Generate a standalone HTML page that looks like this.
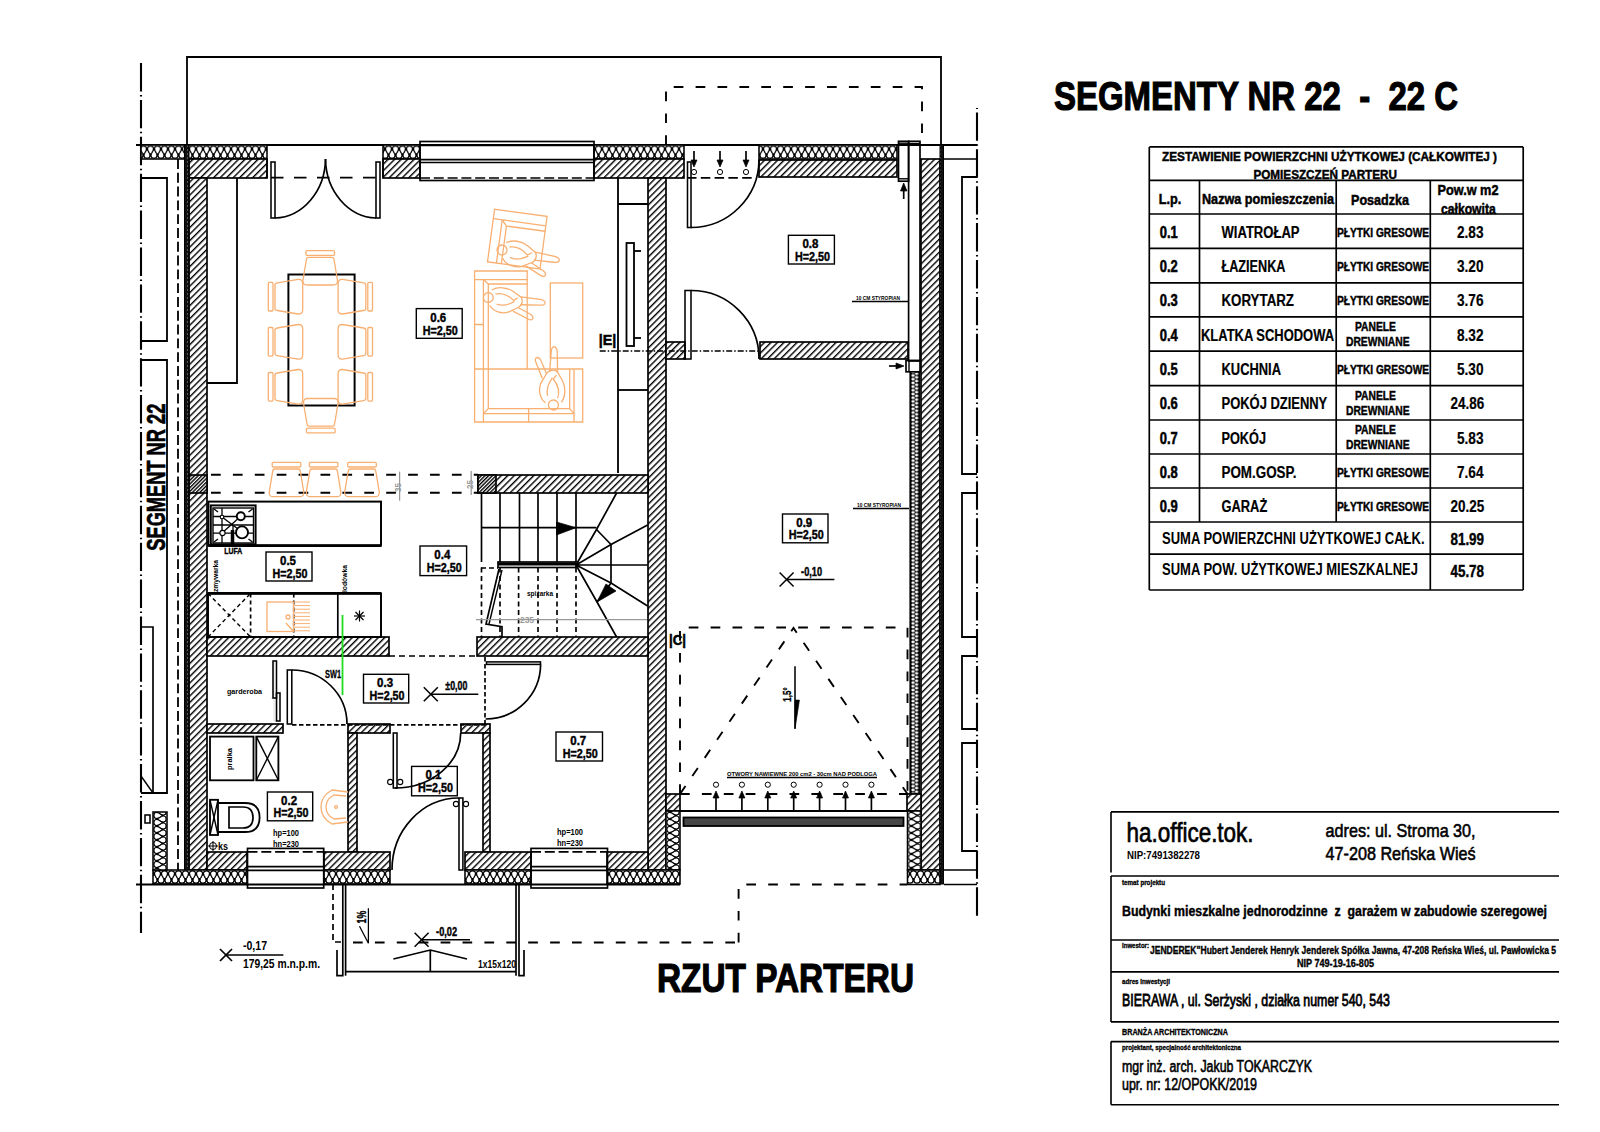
<!DOCTYPE html>
<html><head><meta charset="utf-8"><title>Rzut parteru</title>
<style>html,body{margin:0;padding:0;background:#fff;width:1600px;height:1132px;overflow:hidden}
svg{display:block;font-family:"Liberation Sans",sans-serif}
text{font-family:"Liberation Sans",sans-serif}
</style></head><body>
<svg width="1600" height="1132" viewBox="0 0 1600 1132" font-family="Liberation Sans, sans-serif"><defs>
<pattern id="h" width="4.6" height="4.6" patternUnits="userSpaceOnUse" patternTransform="rotate(45)">
<rect width="4.6" height="4.6" fill="#fff"/><line x1="0.7" y1="0" x2="0.7" y2="4.6" stroke="#000" stroke-width="1.4"/></pattern>
<pattern id="hd" width="2.6" height="2.6" patternUnits="userSpaceOnUse" patternTransform="rotate(45)">
<rect width="2.6" height="2.6" fill="#fff"/><line x1="0.7" y1="0" x2="0.7" y2="2.6" stroke="#000" stroke-width="1.4"/></pattern>
<pattern id="inst" x="0" y="145.2" width="7" height="14" patternUnits="userSpaceOnUse">
<rect width="7" height="14" fill="#fff"/><path d="M3.5,9.5 C-0.6,5 -0.4,0.9 3.5,0.9 C7.4,0.9 7.6,5 3.5,9.5 Z M0,4.5 C-4.1,9 -3.9,13.1 0,13.1 C3.9,13.1 4.1,9 0,4.5 Z M7,4.5 C2.9,9 3.1,13.1 7,13.1 C10.9,13.1 11.1,9 7,4.5 Z" stroke="#000" stroke-width="1.15" fill="none"/></pattern><pattern id="insb" x="0" y="870" width="7" height="14" patternUnits="userSpaceOnUse">
<rect width="7" height="14" fill="#fff"/><path d="M3.5,9.5 C-0.6,5 -0.4,0.9 3.5,0.9 C7.4,0.9 7.6,5 3.5,9.5 Z M0,4.5 C-4.1,9 -3.9,13.1 0,13.1 C3.9,13.1 4.1,9 0,4.5 Z M7,4.5 C2.9,9 3.1,13.1 7,13.1 C10.9,13.1 11.1,9 7,4.5 Z" stroke="#000" stroke-width="1.15" fill="none"/></pattern><pattern id="insvl" x="153" y="0" width="14" height="7" patternUnits="userSpaceOnUse">
<rect width="14" height="7" fill="#fff"/><path d="M9.5,3.5 C5,-0.6 0.9,-0.4 0.9,3.5 C0.9,7.4 5,7.6 9.5,3.5 Z M4.5,0 C9,-4.1 13.1,-3.9 13.1,0 C13.1,3.9 9,4.1 4.5,0 Z M4.5,7 C9,2.9 13.1,3.1 13.1,7 C13.1,10.9 9,11.1 4.5,7 Z" stroke="#000" stroke-width="1.15" fill="none"/></pattern><pattern id="insvg" x="666" y="0" width="14" height="7" patternUnits="userSpaceOnUse">
<rect width="14" height="7" fill="#fff"/><path d="M9.5,3.5 C5,-0.6 0.9,-0.4 0.9,3.5 C0.9,7.4 5,7.6 9.5,3.5 Z M4.5,0 C9,-4.1 13.1,-3.9 13.1,0 C13.1,3.9 9,4.1 4.5,0 Z M4.5,7 C9,2.9 13.1,3.1 13.1,7 C13.1,10.9 9,11.1 4.5,7 Z" stroke="#000" stroke-width="1.15" fill="none"/></pattern><pattern id="insvr" x="907.5" y="0" width="14" height="7" patternUnits="userSpaceOnUse">
<rect width="14" height="7" fill="#fff"/><path d="M9.5,3.5 C5,-0.6 0.9,-0.4 0.9,3.5 C0.9,7.4 5,7.6 9.5,3.5 Z M4.5,0 C9,-4.1 13.1,-3.9 13.1,0 C13.1,3.9 9,4.1 4.5,0 Z M4.5,7 C9,2.9 13.1,3.1 13.1,7 C13.1,10.9 9,11.1 4.5,7 Z" stroke="#000" stroke-width="1.15" fill="none"/></pattern>
<pattern id="dense" width="3" height="4" patternUnits="userSpaceOnUse">
<rect width="3" height="4" fill="#111"/><rect x="1" y="1.5" width="1" height="1" fill="#999"/></pattern>
<pattern id="strip" x="910" y="0" width="9.5" height="3.7" patternUnits="userSpaceOnUse">
<rect width="9.5" height="3.7" fill="#000"/><ellipse cx="3" cy="1.85" rx="1.7" ry="1.35" fill="#fff"/><ellipse cx="6.6" cy="0" rx="1.7" ry="1.35" fill="#fff"/><ellipse cx="6.6" cy="3.7" rx="1.7" ry="1.35" fill="#fff"/></pattern>
<pattern id="bar" width="1.9" height="10" patternUnits="userSpaceOnUse">
<rect width="1.9" height="10" fill="#000"/><rect x="0.6" width="0.7" height="10" fill="#bbb"/></pattern>
</defs><line x1="141" y1="63" x2="141" y2="933" stroke="#000" stroke-width="2.1" stroke-dasharray="28.4,3.5,1.5,3.5" />
<line x1="977" y1="108" x2="977" y2="918" stroke="#000" stroke-width="2.1" stroke-dasharray="28.4,3.5,1.5,3.5" stroke-dashoffset="32.5"/>
<path d="M187,145 V57 H941 V145" stroke="#000" stroke-width="1.82" fill="none" />
<path d="M666,145 V87 H922 V145" stroke="#000" stroke-width="1.89" fill="none" stroke-dasharray="9.7,12.2" />
<line x1="178" y1="159" x2="178" y2="870" stroke="#000" stroke-width="1.82" stroke-dasharray="9.9,3.9" />
<line x1="136" y1="145" x2="977" y2="145" stroke="#000" stroke-width="1.82" />
<line x1="941" y1="159" x2="977" y2="159" stroke="#000" stroke-width="1.68" />
<line x1="941" y1="870" x2="977" y2="870" stroke="#000" stroke-width="1.68" />
<line x1="944" y1="884.5" x2="977" y2="884.5" stroke="#000" stroke-width="1.68" />
<path d="M141,178 H167 V341 H141" stroke="#000" stroke-width="1.82" fill="none" />
<path d="M141,360 H167 V793 H141" stroke="#000" stroke-width="1.82" fill="none" />
<path d="M141,627 H153 V793" stroke="#000" stroke-width="1.68" fill="none" />
<line x1="141" y1="776" x2="153" y2="793" stroke="#000" stroke-width="1.4" />
<rect x="145" y="815" width="5" height="8" stroke="#000" stroke-width="1.54" fill="none" />
<path d="M977,177 H962 V474 H977" stroke="#000" stroke-width="1.82" fill="none" />
<path d="M977,493 H962 V637 H977" stroke="#000" stroke-width="1.82" fill="none" />
<path d="M977,656 H962 V729 H977" stroke="#000" stroke-width="1.82" fill="none" />
<path d="M977,743 H962 V851 H977" stroke="#000" stroke-width="1.82" fill="none" />
<rect x="141" y="145" width="126" height="14" fill="url(#inst)" stroke="#000" stroke-width="1.54"/>
<rect x="383" y="145" width="37" height="14" fill="url(#inst)" stroke="#000" stroke-width="1.54"/>
<rect x="594" y="145" width="90" height="14" fill="url(#inst)" stroke="#000" stroke-width="1.54"/>
<rect x="759" y="145" width="138" height="14" fill="url(#inst)" stroke="#000" stroke-width="1.54"/>
<rect x="189" y="159" width="78" height="19" fill="url(#h)" stroke="#000" stroke-width="1.68"/>
<rect x="383" y="159" width="37" height="19" fill="url(#h)" stroke="#000" stroke-width="1.68"/>
<rect x="594" y="159" width="90" height="19" fill="url(#h)" stroke="#000" stroke-width="1.68"/>
<rect x="759" y="160" width="138" height="17" fill="url(#h)" stroke="#000" stroke-width="1.68"/>
<rect x="189" y="178" width="18" height="692" fill="url(#h)" stroke="#000" stroke-width="1.68"/>
<rect x="189" y="475" width="18" height="18" fill="url(#hd)" stroke="#000" stroke-width="1.68"/>
<rect x="184.5" y="145" width="4.5" height="739" fill="url(#dense)" stroke="#000" stroke-width="1"/>
<rect x="921" y="159" width="19" height="711" fill="url(#h)" stroke="#000" stroke-width="1.68"/>
<rect x="940" y="145" width="3.5" height="739" fill="url(#dense)" stroke="#000" stroke-width="1"/>
<rect x="898.5" y="141.3" width="10.1" height="39.9" stroke="#000" stroke-width="1.68" fill="none" />
<line x1="898.5" y1="143.2" x2="908.6" y2="143.2" stroke="#000" stroke-width="1.4" />
<line x1="898.5" y1="178.8" x2="908.6" y2="178.8" stroke="#000" stroke-width="1.4" />
<rect x="908.6" y="141.3" width="11.4" height="219.7" stroke="#000" stroke-width="1.68" fill="none" />
<line x1="908.6" y1="143.5" x2="920" y2="143.5" stroke="#000" stroke-width="1.4" />
<rect x="906" y="360.4" width="14" height="11.4" stroke="#000" stroke-width="1.68" fill="none" />
<line x1="909" y1="360.4" x2="909" y2="371.8" stroke="#000" stroke-width="1.4" />
<rect x="910" y="372" width="9.7" height="422" fill="url(#strip)" stroke="#000" stroke-width="1.2"/>
<rect x="648" y="178" width="18" height="692" fill="url(#h)" stroke="#000" stroke-width="1.68"/>
<rect x="666" y="794" width="14" height="17" fill="url(#h)" stroke="#000" stroke-width="1.68"/>
<rect x="907" y="794" width="14" height="17" fill="url(#h)" stroke="#000" stroke-width="1.68"/>
<rect x="666" y="811" width="14" height="59" fill="url(#insvg)" stroke="#000" stroke-width="1.54"/>
<rect x="907.5" y="811" width="13.5" height="59" fill="url(#insvr)" stroke="#000" stroke-width="1.54"/>
<rect x="666" y="342" width="19" height="17" fill="url(#h)" stroke="#000" stroke-width="1.68"/>
<rect x="760" y="342" width="148" height="17" fill="url(#h)" stroke="#000" stroke-width="1.68"/>
<line x1="207" y1="474.7" x2="478" y2="474.7" stroke="#000" stroke-width="1.89" stroke-dasharray="9.7,12.2" stroke-dashoffset="-4"/>
<line x1="207" y1="492.8" x2="478" y2="492.8" stroke="#000" stroke-width="1.89" stroke-dasharray="9.7,12.2" stroke-dashoffset="-4"/>
<rect x="478" y="475" width="170" height="18" fill="url(#h)" stroke="#000" stroke-width="1.68"/>
<rect x="478" y="475" width="18" height="18" fill="url(#hd)" stroke="#000" stroke-width="1.68"/>
<rect x="207" y="637" width="182" height="19" fill="url(#h)" stroke="#000" stroke-width="1.68"/>
<rect x="477" y="637" width="171" height="19" fill="url(#h)" stroke="#000" stroke-width="1.68"/>
<line x1="389" y1="656" x2="477" y2="656" stroke="#000" stroke-width="1.68" stroke-dasharray="6,4" />
<rect x="207" y="724" width="76" height="9" fill="url(#h)" stroke="#000" stroke-width="1.68"/>
<rect x="348" y="724" width="42" height="9" fill="url(#h)" stroke="#000" stroke-width="1.68"/>
<rect x="348" y="733" width="9" height="119" fill="url(#h)" stroke="#000" stroke-width="1.68"/>
<rect x="461" y="724" width="29" height="9" fill="url(#h)" stroke="#000" stroke-width="1.68"/>
<rect x="483" y="733" width="7" height="119" fill="url(#h)" stroke="#000" stroke-width="1.68"/>
<rect x="207" y="852" width="40" height="18" fill="url(#h)" stroke="#000" stroke-width="1.68"/>
<rect x="324" y="852" width="66" height="18" fill="url(#h)" stroke="#000" stroke-width="1.68"/>
<rect x="465" y="852" width="66" height="18" fill="url(#h)" stroke="#000" stroke-width="1.68"/>
<rect x="607" y="852" width="41" height="18" fill="url(#h)" stroke="#000" stroke-width="1.68"/>
<rect x="153" y="870" width="94" height="14" fill="url(#insb)" stroke="#000" stroke-width="1.54"/>
<rect x="324" y="870" width="66" height="14" fill="url(#insb)" stroke="#000" stroke-width="1.54"/>
<rect x="465" y="870" width="66" height="14" fill="url(#insb)" stroke="#000" stroke-width="1.54"/>
<rect x="607" y="870" width="73" height="14" fill="url(#insb)" stroke="#000" stroke-width="1.54"/>
<rect x="907.5" y="870" width="32.5" height="14.5" fill="url(#insb)" stroke="#000" stroke-width="1.54"/>
<rect x="153" y="812" width="14" height="58" fill="url(#insvl)" stroke="#000" stroke-width="1.54"/>
<line x1="136" y1="884.5" x2="680" y2="884.5" stroke="#000" stroke-width="1.82" />
<rect x="420" y="141.5" width="174" height="39" stroke="#000" stroke-width="1.68" fill="none" />
<line x1="420" y1="145.3" x2="594" y2="145.3" stroke="#000" stroke-width="1.68" />
<line x1="420" y1="159.7" x2="594" y2="159.7" stroke="#000" stroke-width="1.68" />
<line x1="420" y1="162.5" x2="594" y2="162.5" stroke="#000" stroke-width="1.68" />
<line x1="420" y1="178" x2="594" y2="178" stroke="#000" stroke-width="1.68" stroke-dasharray="10,3.8" />
<rect x="247.5" y="848.4" width="76.19999999999999" height="39.6" stroke="#000" stroke-width="1.68" fill="none" />
<line x1="247.5" y1="851.8" x2="323.7" y2="851.8" stroke="#000" stroke-width="1.68" stroke-dasharray="10,3.8" />
<line x1="247.5" y1="866.6" x2="323.7" y2="866.6" stroke="#000" stroke-width="1.68" />
<line x1="247.5" y1="870.4" x2="323.7" y2="870.4" stroke="#000" stroke-width="1.68" />
<rect x="531" y="848.4" width="76.5" height="39.6" stroke="#000" stroke-width="1.68" fill="none" />
<line x1="531" y1="851.8" x2="607.5" y2="851.8" stroke="#000" stroke-width="1.68" stroke-dasharray="10,3.8" />
<line x1="531" y1="866.6" x2="607.5" y2="866.6" stroke="#000" stroke-width="1.68" />
<line x1="531" y1="870.4" x2="607.5" y2="870.4" stroke="#000" stroke-width="1.68" />
<line x1="680" y1="811" x2="907" y2="811" stroke="#000" stroke-width="1.82" />
<rect x="683.5" y="817.5" width="220" height="8.5" fill="url(#bar)" stroke="#000" stroke-width="1.8"/>
<line x1="267" y1="177.7" x2="383" y2="177.7" stroke="#000" stroke-width="1.68" stroke-dasharray="12.5,10.5" stroke-dashoffset="-4"/>
<path d="M267,159 V178 M383,159 V178" stroke="#000" stroke-width="1.54" fill="none" />
<rect x="271" y="162" width="4" height="56" stroke="#000" stroke-width="1.54" fill="none" />
<rect x="376" y="162" width="4" height="56" stroke="#000" stroke-width="1.54" fill="none" />
<path d="M275,218 A52,60 0 0 0 325.5,159" stroke="#000" stroke-width="1.68" fill="none" />
<path d="M376,218 A52,60 0 0 1 325.5,159" stroke="#000" stroke-width="1.68" fill="none" />
<rect x="687.5" y="162" width="3.5" height="65.5" stroke="#000" stroke-width="1.54" fill="none" />
<path d="M691,227.5 A68,68 0 0 0 759,160" stroke="#000" stroke-width="1.68" fill="none" />
<line x1="684" y1="177.8" x2="757" y2="177.8" stroke="#000" stroke-width="1.68" stroke-dasharray="9.5,4.3" stroke-dashoffset="-3"/>
<line x1="694" y1="151" x2="694" y2="165" stroke="#000" stroke-width="1.68" />
<path d="M691,160 L694,167 L697,160 Z" stroke="#000" stroke-width="0.7" fill="#000" />
<circle cx="694" cy="172" r="2.6" stroke="#000" stroke-width="1" fill="none"/>
<line x1="720" y1="151" x2="720" y2="165" stroke="#000" stroke-width="1.68" />
<path d="M717,160 L720,167 L723,160 Z" stroke="#000" stroke-width="0.7" fill="#000" />
<circle cx="720" cy="172" r="2.6" stroke="#000" stroke-width="1" fill="none"/>
<line x1="746" y1="151" x2="746" y2="165" stroke="#000" stroke-width="1.68" />
<path d="M743,160 L746,167 L749,160 Z" stroke="#000" stroke-width="0.7" fill="#000" />
<circle cx="746" cy="172" r="2.6" stroke="#000" stroke-width="1" fill="none"/>
<line x1="903.7" y1="199" x2="903.7" y2="186" stroke="#000" stroke-width="1.68" />
<path d="M900.5,191 L903.7,183 L907,191 Z" stroke="#000" stroke-width="0.7" fill="#000" />
<rect x="685" y="290.5" width="6" height="68.5" stroke="#000" stroke-width="1.54" fill="none" />
<path d="M691,290.5 A68,68 0 0 1 759,359" stroke="#000" stroke-width="1.68" fill="none" />
<line x1="599.7" y1="351" x2="760" y2="351" stroke="#000" stroke-width="1.68" stroke-dasharray="6,2,1.5,2" />
<line x1="889" y1="366" x2="900" y2="366" stroke="#000" stroke-width="1.68" />
<path d="M896,363 L904,366 L896,369 Z" stroke="#000" stroke-width="0.7" fill="#000" />
<rect x="287.3" y="670" width="4.5" height="54" stroke="#000" stroke-width="1.54" fill="none" />
<path d="M291.8,670 A55,54 0 0 1 347,724" stroke="#000" stroke-width="1.68" fill="none" />
<path d="M274,661 V695 H277 V721 H274 V698 H271" stroke="#000" stroke-width="0.14" fill="none" />
<rect x="273" y="661" width="3.5" height="37" stroke="#000" stroke-width="1.54" fill="none" />
<rect x="276.5" y="693" width="3.5" height="28" stroke="#000" stroke-width="1.54" fill="none" />
<line x1="292" y1="724.8" x2="485" y2="724.8" stroke="#000" stroke-width="1.68" stroke-dasharray="4.5,2.5" />
<line x1="485" y1="657" x2="485" y2="724.8" stroke="#000" stroke-width="1.68" stroke-dasharray="4.5,2.5" />
<rect x="486.5" y="661.9" width="54" height="2.5" stroke="#000" stroke-width="1.54" fill="none" />
<path d="M540.6,664.4 A55,55 0 0 1 485.6,719" stroke="#000" stroke-width="1.68" fill="none" />
<rect x="393.3" y="733" width="3.7" height="55" stroke="#000" stroke-width="1.54" fill="none" />
<path d="M395,788 A66,55 0 0 0 460.7,733" stroke="#000" stroke-width="1.68" fill="none" />
<rect x="459" y="798" width="3.9" height="72" stroke="#000" stroke-width="1.54" fill="none" />
<path d="M459,798 A67,72 0 0 0 392,870" stroke="#000" stroke-width="1.68" fill="none" />
<circle cx="390.2" cy="782" r="2.6" stroke="#000" stroke-width="1.1" fill="#fff"/>
<circle cx="400.2" cy="782" r="2.6" stroke="#000" stroke-width="1.1" fill="#fff"/>
<circle cx="456" cy="804" r="2.6" stroke="#000" stroke-width="1.1" fill="#fff"/>
<circle cx="466" cy="804" r="2.6" stroke="#000" stroke-width="1.1" fill="#fff"/>
<path d="M207,383 H237 V178" stroke="#000" stroke-width="1.82" fill="none" />
<path d="M648,204 H618 V473 M618,178 V204" stroke="#000" stroke-width="1.82" fill="none" />
<line x1="618" y1="390" x2="648" y2="390" stroke="#000" stroke-width="1.82" />
<rect x="626.5" y="243" width="7.5" height="103" stroke="#000" stroke-width="1.82" fill="none" />
<line x1="634" y1="251" x2="641" y2="251" stroke="#000" stroke-width="1.82" />
<line x1="634" y1="338" x2="641" y2="338" stroke="#000" stroke-width="1.82" />
<text x="598.8" y="344.8" font-size="14" font-weight="bold" fill="#000" text-anchor="start" textLength="17.5" lengthAdjust="spacingAndGlyphs" stroke="#000" stroke-width="0.5" >|E|</text>
<rect x="288.4" y="274.5" width="66.2" height="131" stroke="#000" stroke-width="1.96" fill="none" />
<g transform="translate(320.2,269.5) rotate(0)" stroke="#f8b072" stroke-width="1.3" fill="none"><rect x="-14.3" y="-18.9" width="28.6" height="4.7" rx="1"/><path d="M-11.5,-12.2 L11.5,-12.2 Q13.5,-12.2 13.8,-10 L17.3,11 Q17.6,15.5 13,15.5 L-13,15.5 Q-17.6,15.5 -17.3,11 L-13.8,-10 Q-13.5,-12.2 -11.5,-12.2 Z"/></g>
<g transform="translate(320.8,414) rotate(180)" stroke="#f8b072" stroke-width="1.3" fill="none"><rect x="-14.3" y="-18.9" width="28.6" height="4.7" rx="1"/><path d="M-11.5,-12.2 L11.5,-12.2 Q13.5,-12.2 13.8,-10 L17.3,11 Q17.6,15.5 13,15.5 L-13,15.5 Q-17.6,15.5 -17.3,11 L-13.8,-10 Q-13.5,-12.2 -11.5,-12.2 Z"/></g>
<g transform="translate(287.2,296.7) rotate(-90)" stroke="#f8b072" stroke-width="1.3" fill="none"><rect x="-14.3" y="-18.9" width="28.6" height="4.7" rx="1"/><path d="M-11.5,-12.2 L11.5,-12.2 Q13.5,-12.2 13.8,-10 L17.3,11 Q17.6,15.5 13,15.5 L-13,15.5 Q-17.6,15.5 -17.3,11 L-13.8,-10 Q-13.5,-12.2 -11.5,-12.2 Z"/></g>
<g transform="translate(353.6,296.7) rotate(90)" stroke="#f8b072" stroke-width="1.3" fill="none"><rect x="-14.3" y="-18.9" width="28.6" height="4.7" rx="1"/><path d="M-11.5,-12.2 L11.5,-12.2 Q13.5,-12.2 13.8,-10 L17.3,11 Q17.6,15.5 13,15.5 L-13,15.5 Q-17.6,15.5 -17.3,11 L-13.8,-10 Q-13.5,-12.2 -11.5,-12.2 Z"/></g>
<g transform="translate(287.2,341.8) rotate(-90)" stroke="#f8b072" stroke-width="1.3" fill="none"><rect x="-14.3" y="-18.9" width="28.6" height="4.7" rx="1"/><path d="M-11.5,-12.2 L11.5,-12.2 Q13.5,-12.2 13.8,-10 L17.3,11 Q17.6,15.5 13,15.5 L-13,15.5 Q-17.6,15.5 -17.3,11 L-13.8,-10 Q-13.5,-12.2 -11.5,-12.2 Z"/></g>
<g transform="translate(353.6,341.8) rotate(90)" stroke="#f8b072" stroke-width="1.3" fill="none"><rect x="-14.3" y="-18.9" width="28.6" height="4.7" rx="1"/><path d="M-11.5,-12.2 L11.5,-12.2 Q13.5,-12.2 13.8,-10 L17.3,11 Q17.6,15.5 13,15.5 L-13,15.5 Q-17.6,15.5 -17.3,11 L-13.8,-10 Q-13.5,-12.2 -11.5,-12.2 Z"/></g>
<g transform="translate(287.2,386.8) rotate(-90)" stroke="#f8b072" stroke-width="1.3" fill="none"><rect x="-14.3" y="-18.9" width="28.6" height="4.7" rx="1"/><path d="M-11.5,-12.2 L11.5,-12.2 Q13.5,-12.2 13.8,-10 L17.3,11 Q17.6,15.5 13,15.5 L-13,15.5 Q-17.6,15.5 -17.3,11 L-13.8,-10 Q-13.5,-12.2 -11.5,-12.2 Z"/></g>
<g transform="translate(353.6,386.8) rotate(90)" stroke="#f8b072" stroke-width="1.3" fill="none"><rect x="-14.3" y="-18.9" width="28.6" height="4.7" rx="1"/><path d="M-11.5,-12.2 L11.5,-12.2 Q13.5,-12.2 13.8,-10 L17.3,11 Q17.6,15.5 13,15.5 L-13,15.5 Q-17.6,15.5 -17.3,11 L-13.8,-10 Q-13.5,-12.2 -11.5,-12.2 Z"/></g>
<g transform="translate(286.5,481.2) rotate(0)" stroke="#f8b072" stroke-width="1.3" fill="none"><rect x="-14.3" y="-18.9" width="28.6" height="4.7" rx="1"/><path d="M-11.5,-12.2 L11.5,-12.2 Q13.5,-12.2 13.8,-10 L17.3,11 Q17.6,15.5 13,15.5 L-13,15.5 Q-17.6,15.5 -17.3,11 L-13.8,-10 Q-13.5,-12.2 -11.5,-12.2 Z"/></g>
<g transform="translate(323.6,481.2) rotate(0)" stroke="#f8b072" stroke-width="1.3" fill="none"><rect x="-14.3" y="-18.9" width="28.6" height="4.7" rx="1"/><path d="M-11.5,-12.2 L11.5,-12.2 Q13.5,-12.2 13.8,-10 L17.3,11 Q17.6,15.5 13,15.5 L-13,15.5 Q-17.6,15.5 -17.3,11 L-13.8,-10 Q-13.5,-12.2 -11.5,-12.2 Z"/></g>
<g transform="translate(362,481.2) rotate(0)" stroke="#f8b072" stroke-width="1.3" fill="none"><rect x="-14.3" y="-18.9" width="28.6" height="4.7" rx="1"/><path d="M-11.5,-12.2 L11.5,-12.2 Q13.5,-12.2 13.8,-10 L17.3,11 Q17.6,15.5 13,15.5 L-13,15.5 Q-17.6,15.5 -17.3,11 L-13.8,-10 Q-13.5,-12.2 -11.5,-12.2 Z"/></g>
<path d="M474.6,271 H527.2 V369 H582.7 V422 H474.6 Z" stroke="#f8b072" stroke-width="1.3" fill="none"/>
<path d="M474.6,279.6 H527.2 M483.4,279.6 V422 M488.3,284 H527.2 M488.3,284 V408.6 H569.7 V369 M483.4,413.6 H574 M574,369 V422 M474.6,324.5 H483.4 M474.6,369 H527.2 M528.6,408.6 V422 M483.4,279.6 L488.3,284 M483.4,413.6 L488.3,408.6 M574,413.6 L569.7,408.6" stroke="#f8b072" stroke-width="1.3" fill="none"/>
<rect x="550.3" y="283" width="32.4" height="75" stroke="#f8b072" stroke-width="1.3" fill="none"/>
<g transform="translate(494.6,209.3) rotate(7.7)" stroke="#f8b072" stroke-width="1.3" fill="none"><rect x="0" y="0" width="53" height="53"/><path d="M0,9.5 H53 M9,9.5 V53 M14,15 H53 M14,15 V53 M9,9.5 L14,15"/></g>
<g transform="translate(502,250) rotate(9) scale(1.0,1.0)" stroke="#f8b072" stroke-width="1.3" fill="none"><circle cx="0" cy="0" r="5"/><path d="M3,-8 C9,-12 18,-12 25,-8 L33,-3 C36,0 35,6 31,8 L22,13 C15,16 6,14 2,8"/><path d="M7,-4 C13,-6 20,-4 26,1 L30,-2 M9,6 C15,8 21,6 27,2"/><path d="M33,-3 L53,-2 C60,-1 60,4 53,4 L33,5"/><path d="M31,8 L44,14 C49,17 47,21 42,19 L26,12"/></g>
<g transform="translate(488.3,297.6) rotate(4) scale(0.98,0.98)" stroke="#f8b072" stroke-width="1.3" fill="none"><circle cx="0" cy="0" r="5"/><path d="M3,-8 C9,-12 18,-12 25,-8 L33,-3 C36,0 35,6 31,8 L22,13 C15,16 6,14 2,8"/><path d="M7,-4 C13,-6 20,-4 26,1 L30,-2 M9,6 C15,8 21,6 27,2"/><path d="M33,-3 L53,-2 C60,-1 60,4 53,4 L33,5"/><path d="M31,8 L44,14 C49,17 47,21 42,19 L26,12"/></g>
<g transform="translate(553.4,405) rotate(-88) scale(1.0,-1.0)" stroke="#f8b072" stroke-width="1.3" fill="none"><circle cx="0" cy="0" r="5"/><path d="M3,-8 C9,-12 18,-12 25,-8 L33,-3 C36,0 35,6 31,8 L22,13 C15,16 6,14 2,8"/><path d="M7,-4 C13,-6 20,-4 26,1 L30,-2 M9,6 C15,8 21,6 27,2"/><path d="M33,-3 L53,-2 C60,-1 60,4 53,4 L33,5"/><path d="M31,8 L44,14 C49,17 47,21 42,19 L26,12"/></g>
<line x1="399.6" y1="471.6" x2="399.6" y2="500.7" stroke="#999" stroke-width="1.26" />
<text x="0" y="0" font-size="9" font-weight="bold" fill="#999" text-anchor="start" textLength="9" lengthAdjust="spacingAndGlyphs" transform="translate(401,492) rotate(-90)">35</text>
<line x1="471.2" y1="471" x2="471.2" y2="495" stroke="#999" stroke-width="1.26" />
<text x="0" y="0" font-size="9" font-weight="bold" fill="#999" text-anchor="start" textLength="9" lengthAdjust="spacingAndGlyphs" transform="translate(473,489) rotate(-90)">25</text>
<rect x="208.4" y="501.6" width="172.6" height="44" stroke="#000" stroke-width="1.96" fill="none" />
<line x1="208.4" y1="545.6" x2="381" y2="545.6" stroke="#000" stroke-width="2.8" />
<rect x="210.8" y="505.4" width="44.8" height="39" stroke="#000" stroke-width="1.96" fill="none" />
<rect x="213" y="508" width="40.5" height="35" stroke="#000" stroke-width="1.4" fill="none" />
<g stroke="#000" stroke-width="1.3" fill="none"><line x1="213" y1="516.5" x2="253.5" y2="516.5"/><line x1="213" y1="525" x2="253.5" y2="525"/><line x1="213" y1="533.2" x2="253.5" y2="533.2"/><line x1="222" y1="508" x2="222" y2="543"/><line x1="233" y1="525" x2="233" y2="543"/><line x1="222" y1="517" x2="242" y2="532"/><line x1="222" y1="533" x2="241" y2="516"/><line x1="214" y1="509" x2="218" y2="512"/><line x1="252.5" y1="509" x2="248.5" y2="512"/><line x1="214" y1="542" x2="218" y2="539"/><line x1="252.5" y1="542" x2="248.5" y2="539"/></g>
<g stroke="#000" stroke-width="1.9" fill="#fff"><circle cx="240.8" cy="516.3" r="4"/><circle cx="242" cy="532.4" r="6"/></g>
<g stroke="#000" stroke-width="1.1" fill="#fff"><circle cx="222" cy="517" r="1.8"/><circle cx="222.5" cy="533" r="2.6"/></g>
<line x1="232.5" y1="530" x2="232.5" y2="545" stroke="#000" stroke-width="3.5" />
<text x="224.3" y="553.6" font-size="9" font-weight="bold" fill="#000" text-anchor="start" textLength="18" lengthAdjust="spacingAndGlyphs" stroke="#000" stroke-width="0.4" >LUFA</text>
<rect x="208" y="593.4" width="173" height="43.6" stroke="#000" stroke-width="1.96" fill="none" />
<line x1="208" y1="593.4" x2="381" y2="593.4" stroke="#000" stroke-width="2.8" />
<line x1="250.6" y1="593.4" x2="250.6" y2="637" stroke="#000" stroke-width="1.68" stroke-dasharray="4,3" />
<line x1="293.75" y1="593.4" x2="293.75" y2="637" stroke="#000" stroke-width="1.68" stroke-dasharray="4,3" />
<line x1="337.8" y1="593.4" x2="337.8" y2="637" stroke="#000" stroke-width="1.68" />
<line x1="208" y1="593.4" x2="250.6" y2="637" stroke="#000" stroke-width="1.4" stroke-dasharray="4,3" />
<line x1="208" y1="637" x2="250.6" y2="593.4" stroke="#000" stroke-width="1.4" stroke-dasharray="4,3" />
<rect x="267" y="602" width="26.5" height="29.5" stroke="#f8b072" stroke-width="1.3" fill="none"/>
<line x1="294" y1="602.0" x2="310" y2="602.0" stroke="#f8b072" stroke-width="1"/>
<line x1="294" y1="605.6" x2="310" y2="605.6" stroke="#f8b072" stroke-width="1"/>
<line x1="294" y1="609.2" x2="310" y2="609.2" stroke="#f8b072" stroke-width="1"/>
<line x1="294" y1="612.8" x2="310" y2="612.8" stroke="#f8b072" stroke-width="1"/>
<line x1="294" y1="616.4" x2="310" y2="616.4" stroke="#f8b072" stroke-width="1"/>
<line x1="294" y1="620.0" x2="310" y2="620.0" stroke="#f8b072" stroke-width="1"/>
<line x1="294" y1="623.6" x2="310" y2="623.6" stroke="#f8b072" stroke-width="1"/>
<line x1="294" y1="627.2" x2="310" y2="627.2" stroke="#f8b072" stroke-width="1"/>
<line x1="294" y1="630.8" x2="310" y2="630.8" stroke="#f8b072" stroke-width="1"/>
<circle cx="288" cy="617" r="2" stroke="#f8b072" stroke-width="1.3" fill="none"/><line x1="286" y1="623" x2="293" y2="631" stroke="#f8b072" stroke-width="1.3" x="none"/>
<g stroke="#000" stroke-width="1.2"><line x1="354" y1="616" x2="365" y2="616"/><line x1="359.5" y1="610.5" x2="359.5" y2="621.5"/><line x1="355.5" y1="612" x2="363.5" y2="620"/><line x1="363.5" y1="612" x2="355.5" y2="620"/></g>
<line x1="342.5" y1="615" x2="342.5" y2="695" stroke="#22dd22" stroke-width="1.82" />
<text x="0" y="0" font-size="8" font-weight="bold" fill="#000" text-anchor="start" textLength="32" lengthAdjust="spacingAndGlyphs" transform="translate(218,592) rotate(-90)">zmywarka</text>
<text x="0" y="0" font-size="8" font-weight="bold" fill="#000" text-anchor="start" textLength="27" lengthAdjust="spacingAndGlyphs" transform="translate(347,592) rotate(-90)">lodówka</text>
<line x1="481.5" y1="492.7" x2="481.5" y2="562" stroke="#000" stroke-width="1.68" />
<line x1="500" y1="492.7" x2="500" y2="562" stroke="#000" stroke-width="1.68" />
<line x1="519.5" y1="492.7" x2="519.5" y2="562" stroke="#000" stroke-width="1.68" />
<line x1="538" y1="492.7" x2="538" y2="562" stroke="#000" stroke-width="1.68" />
<line x1="557" y1="492.7" x2="557" y2="562" stroke="#000" stroke-width="1.68" />
<line x1="576" y1="492.7" x2="576" y2="562" stroke="#000" stroke-width="1.68" />
<line x1="481.5" y1="527.7" x2="596.5" y2="527.7" stroke="#000" stroke-width="1.68" />
<rect x="498" y="562" width="78" height="5.5" stroke="#000" stroke-width="1.68" fill="none" />
<line x1="498" y1="564" x2="576" y2="564" stroke="#000" stroke-width="3.08" />
<path d="M576,565 L596.5,529.5 L616.6,493 M576,565 L611,544.5 L647.6,525 M576,565 L647.6,565 M576,565 L611,583 L647.6,606 M576,565 L597,602 L616.6,637" stroke="#000" stroke-width="1.68" fill="none" />
<path d="M596.5,529.5 L611,544.5 L611,583 L597,602" stroke="#000" stroke-width="1.68" fill="none" />
<path d="M556.5,522 L556.5,535 L576,527.7 Z" stroke="#000" stroke-width="0.7" fill="#000" />
<path d="M597,602 L606,584 L616,591 Z" stroke="#000" stroke-width="0.7" fill="#000" />
<line x1="481.5" y1="567.5" x2="481.5" y2="637" stroke="#000" stroke-width="1.68" stroke-dasharray="5,3.5" />
<line x1="500" y1="567.5" x2="500" y2="637" stroke="#000" stroke-width="1.68" stroke-dasharray="5,3.5" />
<line x1="518.6" y1="567.5" x2="518.6" y2="637" stroke="#000" stroke-width="1.68" stroke-dasharray="5,3.5" />
<line x1="538" y1="567.5" x2="538" y2="637" stroke="#000" stroke-width="1.68" stroke-dasharray="5,3.5" />
<line x1="557" y1="567.5" x2="557" y2="637" stroke="#000" stroke-width="1.68" stroke-dasharray="5,3.5" />
<line x1="576" y1="567.5" x2="576" y2="637" stroke="#000" stroke-width="1.68" stroke-dasharray="5,3.5" />
<line x1="481" y1="568" x2="498" y2="568" stroke="#000" stroke-width="1.68" stroke-dasharray="5,3" />
<path d="M499,569 L486,624 L502,626.6 V637" stroke="#000" stroke-width="1.68" fill="none" />
<path d="M502,570 L489,624" stroke="#000" stroke-width="1.4" fill="none" />
<text x="527" y="596" font-size="8" font-weight="bold" fill="#000" text-anchor="start" textLength="26" lengthAdjust="spacingAndGlyphs" >spiżarka</text>
<line x1="476" y1="619.6" x2="647" y2="619.6" stroke="#999" stroke-width="1.4" />
<text x="520" y="623" font-size="9" font-weight="bold" fill="#999" text-anchor="start" textLength="14" lengthAdjust="spacingAndGlyphs" >235</text>
<text x="227" y="694" font-size="8" font-weight="bold" fill="#000" text-anchor="start" textLength="35" lengthAdjust="spacingAndGlyphs" >garderoba</text>
<text x="325" y="678.4" font-size="10" font-weight="bold" fill="#000" text-anchor="start" textLength="16" lengthAdjust="spacingAndGlyphs" stroke="#000" stroke-width="0.3" >SW1</text>
<rect x="210" y="736.6" width="43.5" height="43.7" stroke="#000" stroke-width="1.82" fill="none" />
<rect x="256.3" y="736.6" width="22.1" height="43.7" stroke="#000" stroke-width="1.82" fill="none" />
<line x1="256.3" y1="736.6" x2="278.4" y2="780.3" stroke="#000" stroke-width="1.4" />
<line x1="278.4" y1="736.6" x2="256.3" y2="780.3" stroke="#000" stroke-width="1.4" />
<text x="0" y="0" font-size="8" font-weight="bold" fill="#000" text-anchor="start" textLength="22" lengthAdjust="spacingAndGlyphs" transform="translate(232,770) rotate(-90)">pralka</text>
<rect x="210" y="799.8" width="8" height="35.2" stroke="#000" stroke-width="1.82" fill="none" />
<line x1="210" y1="799.8" x2="218" y2="835" stroke="#000" stroke-width="1.4" />
<line x1="218" y1="799.8" x2="210" y2="835" stroke="#000" stroke-width="1.4" />
<path d="M218,803 H245 Q259.6,803 259.6,817.5 Q259.6,832 245,832 H218" stroke="#000" stroke-width="1.82" fill="none" />
<path d="M229,807 H243 Q253,807 253,817.5 Q253,828 243,828 H229 Z" stroke="#000" stroke-width="1.68" fill="none" />
<path d="M348,792 L332,790 Q321,796 321,807 Q321,818 332,824 L348,822" stroke="#f8b072" stroke-width="1.3" fill="none"/><path d="M346,796 L334,795 Q326,799 326,807 Q326,815 334,819 L346,818" stroke="#f8b072" stroke-width="1.3" fill="none"/><circle cx="336" cy="807" r="1.4" stroke="#f8b072" stroke-width="1.3" fill="none"/>
<g stroke="#000" stroke-width="1" fill="none"><circle cx="213" cy="846" r="3.5"/><line x1="208" y1="846" x2="218" y2="846"/><line x1="213" y1="841" x2="213" y2="851"/></g>
<text x="218" y="850" font-size="11" font-weight="bold" fill="#000" text-anchor="start" textLength="10" lengthAdjust="spacingAndGlyphs" >ks</text>
<text x="273" y="836" font-size="9" font-weight="bold" fill="#000" text-anchor="start" textLength="26" lengthAdjust="spacingAndGlyphs" >hp=100</text>
<text x="273" y="847" font-size="9" font-weight="bold" fill="#000" text-anchor="start" textLength="26" lengthAdjust="spacingAndGlyphs" >hn=230</text>
<text x="557" y="835" font-size="9" font-weight="bold" fill="#000" text-anchor="start" textLength="26" lengthAdjust="spacingAndGlyphs" >hp=100</text>
<text x="557" y="846" font-size="9" font-weight="bold" fill="#000" text-anchor="start" textLength="26" lengthAdjust="spacingAndGlyphs" >hn=230</text>
<rect x="416.3" y="308.6" width="45.89999999999998" height="29.69999999999999" stroke="#000" stroke-width="1.4" fill="none" />
<text x="438.25" y="321.6" font-size="13.5" font-weight="bold" fill="#000" text-anchor="middle" textLength="16" lengthAdjust="spacingAndGlyphs" stroke="#000" stroke-width="0.45" >0.6</text>
<text x="440.25" y="334.8" font-size="13.5" font-weight="bold" fill="#000" text-anchor="middle" textLength="35" lengthAdjust="spacingAndGlyphs" stroke="#000" stroke-width="0.45" >H=2,50</text>
<rect x="788.4" y="235.3" width="46.0" height="28.69999999999999" stroke="#000" stroke-width="1.4" fill="none" />
<text x="810.4" y="248.3" font-size="13.5" font-weight="bold" fill="#000" text-anchor="middle" textLength="16" lengthAdjust="spacingAndGlyphs" stroke="#000" stroke-width="0.45" >0.8</text>
<text x="812.4" y="260.5" font-size="13.5" font-weight="bold" fill="#000" text-anchor="middle" textLength="35" lengthAdjust="spacingAndGlyphs" stroke="#000" stroke-width="0.45" >H=2,50</text>
<rect x="782.5" y="514" width="45.5" height="28.799999999999955" stroke="#000" stroke-width="1.4" fill="none" />
<text x="804.25" y="527" font-size="13.5" font-weight="bold" fill="#000" text-anchor="middle" textLength="16" lengthAdjust="spacingAndGlyphs" stroke="#000" stroke-width="0.45" >0.9</text>
<text x="806.25" y="539.3" font-size="13.5" font-weight="bold" fill="#000" text-anchor="middle" textLength="35" lengthAdjust="spacingAndGlyphs" stroke="#000" stroke-width="0.45" >H=2,50</text>
<rect x="266" y="552" width="46" height="29" stroke="#000" stroke-width="1.4" fill="none" />
<text x="288.0" y="565" font-size="13.5" font-weight="bold" fill="#000" text-anchor="middle" textLength="16" lengthAdjust="spacingAndGlyphs" stroke="#000" stroke-width="0.45" >0.5</text>
<text x="290.0" y="577.5" font-size="13.5" font-weight="bold" fill="#000" text-anchor="middle" textLength="35" lengthAdjust="spacingAndGlyphs" stroke="#000" stroke-width="0.45" >H=2,50</text>
<rect x="420" y="546" width="46.60000000000002" height="29.600000000000023" stroke="#000" stroke-width="1.4" fill="none" />
<text x="442.3" y="559" font-size="13.5" font-weight="bold" fill="#000" text-anchor="middle" textLength="16" lengthAdjust="spacingAndGlyphs" stroke="#000" stroke-width="0.45" >0.4</text>
<text x="444.3" y="572.1" font-size="13.5" font-weight="bold" fill="#000" text-anchor="middle" textLength="35" lengthAdjust="spacingAndGlyphs" stroke="#000" stroke-width="0.45" >H=2,50</text>
<rect x="363.5" y="674.3" width="45.19999999999999" height="28.700000000000045" stroke="#000" stroke-width="1.4" fill="none" />
<text x="385.1" y="687.3" font-size="13.5" font-weight="bold" fill="#000" text-anchor="middle" textLength="16" lengthAdjust="spacingAndGlyphs" stroke="#000" stroke-width="0.45" >0.3</text>
<text x="387.1" y="699.5" font-size="13.5" font-weight="bold" fill="#000" text-anchor="middle" textLength="35" lengthAdjust="spacingAndGlyphs" stroke="#000" stroke-width="0.45" >H=2,50</text>
<rect x="267.4" y="792" width="45.30000000000001" height="28.799999999999955" stroke="#000" stroke-width="1.4" fill="none" />
<text x="289.04999999999995" y="805" font-size="13.5" font-weight="bold" fill="#000" text-anchor="middle" textLength="16" lengthAdjust="spacingAndGlyphs" stroke="#000" stroke-width="0.45" >0.2</text>
<text x="291.04999999999995" y="817.3" font-size="13.5" font-weight="bold" fill="#000" text-anchor="middle" textLength="35" lengthAdjust="spacingAndGlyphs" stroke="#000" stroke-width="0.45" >H=2,50</text>
<rect x="411.6" y="766.4" width="45.69999999999999" height="29.399999999999977" stroke="#000" stroke-width="1.4" fill="none" />
<text x="433.45000000000005" y="779.4" font-size="13.5" font-weight="bold" fill="#000" text-anchor="middle" textLength="16" lengthAdjust="spacingAndGlyphs" stroke="#000" stroke-width="0.45" >0.1</text>
<text x="435.45000000000005" y="792.3" font-size="13.5" font-weight="bold" fill="#000" text-anchor="middle" textLength="35" lengthAdjust="spacingAndGlyphs" stroke="#000" stroke-width="0.45" >H=2,50</text>
<rect x="556" y="732" width="46.5" height="29" stroke="#000" stroke-width="1.4" fill="none" />
<text x="578.25" y="745" font-size="13.5" font-weight="bold" fill="#000" text-anchor="middle" textLength="16" lengthAdjust="spacingAndGlyphs" stroke="#000" stroke-width="0.45" >0.7</text>
<text x="580.25" y="757.5" font-size="13.5" font-weight="bold" fill="#000" text-anchor="middle" textLength="35" lengthAdjust="spacingAndGlyphs" stroke="#000" stroke-width="0.45" >H=2,50</text>
<line x1="423.8" y1="687.2" x2="437.8" y2="701.2" stroke="#000" stroke-width="1.54" />
<line x1="423.8" y1="701.2" x2="437.8" y2="687.2" stroke="#000" stroke-width="1.54" />
<line x1="430.8" y1="694.2" x2="478.3" y2="694.2" stroke="#000" stroke-width="1.54" />
<text x="445.3" y="690.2" font-size="12" font-weight="bold" fill="#000" text-anchor="start" textLength="22" lengthAdjust="spacingAndGlyphs" stroke="#000" stroke-width="0.4" >±0,00</text>
<line x1="779.6" y1="572.5" x2="793.6" y2="586.5" stroke="#000" stroke-width="1.54" />
<line x1="779.6" y1="586.5" x2="793.6" y2="572.5" stroke="#000" stroke-width="1.54" />
<line x1="786.6" y1="579.5" x2="834.4" y2="579.5" stroke="#000" stroke-width="1.54" />
<text x="801.1" y="575.5" font-size="12" font-weight="bold" fill="#000" text-anchor="start" textLength="21" lengthAdjust="spacingAndGlyphs" stroke="#000" stroke-width="0.4" >-0,10</text>
<text x="856" y="300" font-size="5" font-weight="bold" fill="#000" text-anchor="start" textLength="44" lengthAdjust="spacingAndGlyphs" >10 CM STYROPIAN</text>
<line x1="852" y1="301.5" x2="909" y2="301.5" stroke="#000" stroke-width="1.4" />
<text x="857" y="507" font-size="5" font-weight="bold" fill="#000" text-anchor="start" textLength="44" lengthAdjust="spacingAndGlyphs" >10 CM STYROPIAN</text>
<line x1="853" y1="508.5" x2="909" y2="508.5" stroke="#000" stroke-width="1.4" />
<path d="M680,794 V627.5 H907.5 V794" stroke="#000" stroke-width="1.89" fill="none" stroke-dasharray="9.7,12.2" />
<line x1="680" y1="794" x2="907.5" y2="794" stroke="#000" stroke-width="1.89" stroke-dasharray="9.7,12.2" />
<path d="M680,794 L793.5,628 L907.5,794" stroke="#000" stroke-width="1.89" fill="none" stroke-dasharray="9.7,12.2" />
<text x="669" y="644.5" font-size="14" font-weight="bold" fill="#000" text-anchor="start" textLength="17" lengthAdjust="spacingAndGlyphs" stroke="#000" stroke-width="0.5" >|C|</text>
<line x1="795" y1="666.3" x2="795" y2="728.8" stroke="#000" stroke-width="1.54" />
<path d="M795,700.1 L799.4,700.1 L795,728.8 Z" stroke="#000" stroke-width="0.7" fill="#000" />
<text x="0" y="0" font-size="11" font-weight="bold" fill="#000" text-anchor="start" textLength="14.3" lengthAdjust="spacingAndGlyphs" stroke="#000" stroke-width="0.35" transform="translate(791.4,701.7) rotate(-90)">1,5°</text>
<text x="727" y="776" font-size="6" font-weight="bold" fill="#000" text-anchor="start" textLength="150" lengthAdjust="spacingAndGlyphs" >OTWORY NAWIEWNE 200 cm2 - 30cm NAD PODLOGA</text>
<line x1="727" y1="777.5" x2="877" y2="777.5" stroke="#000" stroke-width="1.4" />
<circle cx="716.0" cy="784.7" r="2.6" stroke="#000" stroke-width="1" fill="none"/>
<line x1="716.0" y1="797" x2="716.0" y2="810" stroke="#000" stroke-width="1.68" />
<path d="M713.0,798 L716.0,791 L719.0,798 Z" stroke="#000" stroke-width="0.7" fill="#000" />
<circle cx="741.9" cy="784.7" r="2.6" stroke="#000" stroke-width="1" fill="none"/>
<line x1="741.9" y1="797" x2="741.9" y2="810" stroke="#000" stroke-width="1.68" />
<path d="M738.9,798 L741.9,791 L744.9,798 Z" stroke="#000" stroke-width="0.7" fill="#000" />
<circle cx="767.8" cy="784.7" r="2.6" stroke="#000" stroke-width="1" fill="none"/>
<line x1="767.8" y1="797" x2="767.8" y2="810" stroke="#000" stroke-width="1.68" />
<path d="M764.8,798 L767.8,791 L770.8,798 Z" stroke="#000" stroke-width="0.7" fill="#000" />
<circle cx="793.7" cy="784.7" r="2.6" stroke="#000" stroke-width="1" fill="none"/>
<line x1="793.7" y1="797" x2="793.7" y2="810" stroke="#000" stroke-width="1.68" />
<path d="M790.7,798 L793.7,791 L796.7,798 Z" stroke="#000" stroke-width="0.7" fill="#000" />
<circle cx="819.6" cy="784.7" r="2.6" stroke="#000" stroke-width="1" fill="none"/>
<line x1="819.6" y1="797" x2="819.6" y2="810" stroke="#000" stroke-width="1.68" />
<path d="M816.6,798 L819.6,791 L822.6,798 Z" stroke="#000" stroke-width="0.7" fill="#000" />
<circle cx="845.5" cy="784.7" r="2.6" stroke="#000" stroke-width="1" fill="none"/>
<line x1="845.5" y1="797" x2="845.5" y2="810" stroke="#000" stroke-width="1.68" />
<path d="M842.5,798 L845.5,791 L848.5,798 Z" stroke="#000" stroke-width="0.7" fill="#000" />
<circle cx="871.4" cy="784.7" r="2.6" stroke="#000" stroke-width="1" fill="none"/>
<line x1="871.4" y1="797" x2="871.4" y2="810" stroke="#000" stroke-width="1.68" />
<path d="M868.4,798 L871.4,791 L874.4,798 Z" stroke="#000" stroke-width="0.7" fill="#000" />
<path d="M342.8,884 V975.7 H337 V950" stroke="#000" stroke-width="1.68" fill="none" />
<line x1="345.6" y1="884" x2="345.6" y2="975.7" stroke="#000" stroke-width="1.68" />
<path d="M519,884 V975.7 H524 V950" stroke="#000" stroke-width="1.68" fill="none" />
<line x1="516" y1="884" x2="516" y2="975.7" stroke="#000" stroke-width="1.68" />
<line x1="345.6" y1="971.7" x2="516" y2="971.7" stroke="#000" stroke-width="1.82" />
<path d="M393.4,959 L430.3,950 L467,959 M430.3,950 V971.7" stroke="#000" stroke-width="1.68" fill="none" />
<text x="478" y="968" font-size="10" font-weight="bold" fill="#000" text-anchor="start" textLength="38" lengthAdjust="spacingAndGlyphs" >1x15x120</text>
<path d="M333,884 V942 H345" stroke="#000" stroke-width="1.68" fill="none" stroke-dasharray="6,4" />
<line x1="353" y1="942.5" x2="738.6" y2="942.5" stroke="#000" stroke-width="1.89" stroke-dasharray="9.7,12.2" />
<path d="M738.6,942.5 V884.5 H907" stroke="#000" stroke-width="1.89" fill="none" stroke-dasharray="9.7,12.2" />
<text x="0" y="0" font-size="12" font-weight="bold" fill="#000" text-anchor="start" textLength="12.7" lengthAdjust="spacingAndGlyphs" stroke="#000" stroke-width="0.4" transform="translate(366,923.4) rotate(-90)">1%</text>
<path d="M359.5,926.2 L368.4,943.2 V908.2" stroke="#000" stroke-width="1.26" fill="none" />
<line x1="414.6" y1="932.8" x2="428.6" y2="946.8" stroke="#000" stroke-width="1.54" />
<line x1="414.6" y1="946.8" x2="428.6" y2="932.8" stroke="#000" stroke-width="1.54" />
<line x1="421.6" y1="939.8" x2="470" y2="939.8" stroke="#000" stroke-width="1.54" />
<text x="436.1" y="935.8" font-size="12" font-weight="bold" fill="#000" text-anchor="start" textLength="21" lengthAdjust="spacingAndGlyphs" stroke="#000" stroke-width="0.4" >-0,02</text>
<line x1="220" y1="949" x2="232" y2="961" stroke="#000" stroke-width="1.68" />
<line x1="220" y1="961" x2="232" y2="949" stroke="#000" stroke-width="1.68" />
<line x1="226" y1="955" x2="283.4" y2="955" stroke="#000" stroke-width="1.68" />
<text x="243" y="950" font-size="12" font-weight="bold" fill="#000" text-anchor="start" textLength="24" lengthAdjust="spacingAndGlyphs" >-0,17</text>
<text x="243" y="968" font-size="12" font-weight="bold" fill="#000" text-anchor="start" textLength="77" lengthAdjust="spacingAndGlyphs" >179,25 m.n.p.m.</text>
<text x="657" y="992.4" font-size="41" font-weight="bold" fill="#000" text-anchor="start" textLength="257" lengthAdjust="spacingAndGlyphs" stroke="#000" stroke-width="1.2" >RZUT PARTERU</text>
<text x="0" y="0" font-size="25" font-weight="bold" fill="#000" text-anchor="start" textLength="147" lengthAdjust="spacingAndGlyphs" stroke="#000" stroke-width="0.7" transform="translate(164.6,550.7) rotate(-90)">SEGMENT NR 22</text>
<text x="1054" y="110" font-size="41" font-weight="bold" fill="#000" text-anchor="start" textLength="404" lengthAdjust="spacingAndGlyphs" stroke="#000" stroke-width="1.2" xml:space="preserve">SEGMENTY NR 22  -  22 C</text>
<line x1="1149.3" y1="146.9" x2="1523.2" y2="146.9" stroke="#000" stroke-width="1.68" />
<line x1="1149.3" y1="180.3" x2="1523.2" y2="180.3" stroke="#000" stroke-width="1.68" />
<line x1="1149.3" y1="214" x2="1523.2" y2="214" stroke="#000" stroke-width="1.68" />
<line x1="1149.3" y1="248.4" x2="1523.2" y2="248.4" stroke="#000" stroke-width="1.68" />
<line x1="1149.3" y1="282.8" x2="1523.2" y2="282.8" stroke="#000" stroke-width="1.68" />
<line x1="1149.3" y1="316.9" x2="1523.2" y2="316.9" stroke="#000" stroke-width="1.68" />
<line x1="1149.3" y1="351.2" x2="1523.2" y2="351.2" stroke="#000" stroke-width="1.68" />
<line x1="1149.3" y1="385.7" x2="1523.2" y2="385.7" stroke="#000" stroke-width="1.68" />
<line x1="1149.3" y1="420" x2="1523.2" y2="420" stroke="#000" stroke-width="1.68" />
<line x1="1149.3" y1="454" x2="1523.2" y2="454" stroke="#000" stroke-width="1.68" />
<line x1="1149.3" y1="488" x2="1523.2" y2="488" stroke="#000" stroke-width="1.68" />
<line x1="1149.3" y1="522" x2="1523.2" y2="522" stroke="#000" stroke-width="1.68" />
<line x1="1149.3" y1="554.2" x2="1523.2" y2="554.2" stroke="#000" stroke-width="1.68" />
<line x1="1149.3" y1="590" x2="1523.2" y2="590" stroke="#000" stroke-width="1.68" />
<line x1="1149.3" y1="146.9" x2="1149.3" y2="590" stroke="#000" stroke-width="1.68" />
<line x1="1523.2" y1="146.9" x2="1523.2" y2="590" stroke="#000" stroke-width="1.68" />
<line x1="1199.5" y1="180.3" x2="1199.5" y2="522" stroke="#000" stroke-width="1.68" />
<line x1="1336.2" y1="180.3" x2="1336.2" y2="522" stroke="#000" stroke-width="1.68" />
<line x1="1430.3" y1="180.3" x2="1430.3" y2="590" stroke="#000" stroke-width="1.68" />
<text x="1162" y="160.6" font-size="12.5" font-weight="bold" fill="#000" text-anchor="start" textLength="335" lengthAdjust="spacingAndGlyphs" stroke="#000" stroke-width="0.45" >ZESTAWIENIE POWIERZCHNI UŻYTKOWEJ (CAŁKOWITEJ )</text>
<text x="1253.4" y="179" font-size="12.5" font-weight="bold" fill="#000" text-anchor="start" textLength="143.6" lengthAdjust="spacingAndGlyphs" stroke="#000" stroke-width="0.45" >POMIESZCZEŃ PARTERU</text>
<text x="1158.75" y="203.75" font-size="15" font-weight="bold" fill="#000" text-anchor="start" textLength="22.5" lengthAdjust="spacingAndGlyphs" stroke="#000" stroke-width="0.5" >L.p.</text>
<text x="1202" y="203.75" font-size="15" font-weight="bold" fill="#000" text-anchor="start" textLength="132" lengthAdjust="spacingAndGlyphs" stroke="#000" stroke-width="0.5" >Nazwa pomieszczenia</text>
<text x="1351" y="205" font-size="15" font-weight="bold" fill="#000" text-anchor="start" textLength="58" lengthAdjust="spacingAndGlyphs" stroke="#000" stroke-width="0.5" >Posadzka</text>
<text x="1437.5" y="195" font-size="15" font-weight="bold" fill="#000" text-anchor="start" textLength="61" lengthAdjust="spacingAndGlyphs" stroke="#000" stroke-width="0.5" >Pow.w m2</text>
<text x="1441" y="213.75" font-size="15" font-weight="bold" fill="#000" text-anchor="start" textLength="54.7" lengthAdjust="spacingAndGlyphs" stroke="#000" stroke-width="0.5" >całkowita</text>
<text x="1159.7" y="237.7" font-size="16" font-weight="bold" fill="#000" text-anchor="start" textLength="18" lengthAdjust="spacingAndGlyphs" stroke="#000" stroke-width="0.55" >0.1</text>
<text x="1221.5" y="237.7" font-size="16" font-weight="bold" fill="#000" text-anchor="start" textLength="78" lengthAdjust="spacingAndGlyphs" stroke="#000" stroke-width="0.2" >WIATROŁAP</text>
<text x="1337" y="236.7" font-size="12" font-weight="bold" fill="#000" text-anchor="start" textLength="92" lengthAdjust="spacingAndGlyphs" stroke="#000" stroke-width="0.4" >PŁYTKI GRESOWE</text>
<text x="1457" y="237.7" font-size="16" font-weight="bold" fill="#000" text-anchor="start" textLength="26.5" lengthAdjust="spacingAndGlyphs" stroke="#000" stroke-width="0.2" >2.83</text>
<text x="1159.7" y="272.1" font-size="16" font-weight="bold" fill="#000" text-anchor="start" textLength="18" lengthAdjust="spacingAndGlyphs" stroke="#000" stroke-width="0.55" >0.2</text>
<text x="1221.5" y="272.1" font-size="16" font-weight="bold" fill="#000" text-anchor="start" textLength="64" lengthAdjust="spacingAndGlyphs" stroke="#000" stroke-width="0.2" >ŁAZIENKA</text>
<text x="1337" y="271.1" font-size="12" font-weight="bold" fill="#000" text-anchor="start" textLength="92" lengthAdjust="spacingAndGlyphs" stroke="#000" stroke-width="0.4" >PŁYTKI GRESOWE</text>
<text x="1457" y="272.1" font-size="16" font-weight="bold" fill="#000" text-anchor="start" textLength="26.5" lengthAdjust="spacingAndGlyphs" stroke="#000" stroke-width="0.2" >3.20</text>
<text x="1159.7" y="306.35" font-size="16" font-weight="bold" fill="#000" text-anchor="start" textLength="18" lengthAdjust="spacingAndGlyphs" stroke="#000" stroke-width="0.55" >0.3</text>
<text x="1221.5" y="306.35" font-size="16" font-weight="bold" fill="#000" text-anchor="start" textLength="72.5" lengthAdjust="spacingAndGlyphs" stroke="#000" stroke-width="0.2" >KORYTARZ</text>
<text x="1337" y="305.35" font-size="12" font-weight="bold" fill="#000" text-anchor="start" textLength="92" lengthAdjust="spacingAndGlyphs" stroke="#000" stroke-width="0.4" >PŁYTKI GRESOWE</text>
<text x="1457" y="306.35" font-size="16" font-weight="bold" fill="#000" text-anchor="start" textLength="26.5" lengthAdjust="spacingAndGlyphs" stroke="#000" stroke-width="0.2" >3.76</text>
<text x="1159.7" y="340.54999999999995" font-size="16" font-weight="bold" fill="#000" text-anchor="start" textLength="18" lengthAdjust="spacingAndGlyphs" stroke="#000" stroke-width="0.55" >0.4</text>
<text x="1201" y="340.54999999999995" font-size="16" font-weight="bold" fill="#000" text-anchor="start" textLength="133" lengthAdjust="spacingAndGlyphs" stroke="#000" stroke-width="0.2" >KLATKA SCHODOWA</text>
<text x="1355" y="331.19999999999993" font-size="12" font-weight="bold" fill="#000" text-anchor="start" textLength="41" lengthAdjust="spacingAndGlyphs" stroke="#000" stroke-width="0.4" >PANELE</text>
<text x="1346" y="346.04999999999995" font-size="12" font-weight="bold" fill="#000" text-anchor="start" textLength="63.5" lengthAdjust="spacingAndGlyphs" stroke="#000" stroke-width="0.4" >DREWNIANE</text>
<text x="1457" y="340.54999999999995" font-size="16" font-weight="bold" fill="#000" text-anchor="start" textLength="26.5" lengthAdjust="spacingAndGlyphs" stroke="#000" stroke-width="0.2" >8.32</text>
<text x="1159.7" y="374.95" font-size="16" font-weight="bold" fill="#000" text-anchor="start" textLength="18" lengthAdjust="spacingAndGlyphs" stroke="#000" stroke-width="0.55" >0.5</text>
<text x="1221.5" y="374.95" font-size="16" font-weight="bold" fill="#000" text-anchor="start" textLength="59.5" lengthAdjust="spacingAndGlyphs" stroke="#000" stroke-width="0.2" >KUCHNIA</text>
<text x="1337" y="373.95" font-size="12" font-weight="bold" fill="#000" text-anchor="start" textLength="92" lengthAdjust="spacingAndGlyphs" stroke="#000" stroke-width="0.4" >PŁYTKI GRESOWE</text>
<text x="1457" y="374.95" font-size="16" font-weight="bold" fill="#000" text-anchor="start" textLength="26.5" lengthAdjust="spacingAndGlyphs" stroke="#000" stroke-width="0.2" >5.30</text>
<text x="1159.7" y="409.35" font-size="16" font-weight="bold" fill="#000" text-anchor="start" textLength="18" lengthAdjust="spacingAndGlyphs" stroke="#000" stroke-width="0.55" >0.6</text>
<text x="1221.5" y="409.35" font-size="16" font-weight="bold" fill="#000" text-anchor="start" textLength="105.75" lengthAdjust="spacingAndGlyphs" stroke="#000" stroke-width="0.2" >POKÓJ DZIENNY</text>
<text x="1355" y="400.0" font-size="12" font-weight="bold" fill="#000" text-anchor="start" textLength="41" lengthAdjust="spacingAndGlyphs" stroke="#000" stroke-width="0.4" >PANELE</text>
<text x="1346" y="414.85" font-size="12" font-weight="bold" fill="#000" text-anchor="start" textLength="63.5" lengthAdjust="spacingAndGlyphs" stroke="#000" stroke-width="0.4" >DREWNIANE</text>
<text x="1450.5" y="409.35" font-size="16" font-weight="bold" fill="#000" text-anchor="start" textLength="33.75" lengthAdjust="spacingAndGlyphs" stroke="#000" stroke-width="0.2" >24.86</text>
<text x="1159.7" y="443.5" font-size="16" font-weight="bold" fill="#000" text-anchor="start" textLength="18" lengthAdjust="spacingAndGlyphs" stroke="#000" stroke-width="0.55" >0.7</text>
<text x="1221.5" y="443.5" font-size="16" font-weight="bold" fill="#000" text-anchor="start" textLength="44.5" lengthAdjust="spacingAndGlyphs" stroke="#000" stroke-width="0.2" >POKÓJ</text>
<text x="1355" y="434.15" font-size="12" font-weight="bold" fill="#000" text-anchor="start" textLength="41" lengthAdjust="spacingAndGlyphs" stroke="#000" stroke-width="0.4" >PANELE</text>
<text x="1346" y="449.0" font-size="12" font-weight="bold" fill="#000" text-anchor="start" textLength="63.5" lengthAdjust="spacingAndGlyphs" stroke="#000" stroke-width="0.4" >DREWNIANE</text>
<text x="1457" y="443.5" font-size="16" font-weight="bold" fill="#000" text-anchor="start" textLength="26.5" lengthAdjust="spacingAndGlyphs" stroke="#000" stroke-width="0.2" >5.83</text>
<text x="1159.7" y="477.5" font-size="16" font-weight="bold" fill="#000" text-anchor="start" textLength="18" lengthAdjust="spacingAndGlyphs" stroke="#000" stroke-width="0.55" >0.8</text>
<text x="1221.5" y="477.5" font-size="16" font-weight="bold" fill="#000" text-anchor="start" textLength="75" lengthAdjust="spacingAndGlyphs" stroke="#000" stroke-width="0.2" >POM.GOSP.</text>
<text x="1337" y="476.5" font-size="12" font-weight="bold" fill="#000" text-anchor="start" textLength="92" lengthAdjust="spacingAndGlyphs" stroke="#000" stroke-width="0.4" >PŁYTKI GRESOWE</text>
<text x="1457" y="477.5" font-size="16" font-weight="bold" fill="#000" text-anchor="start" textLength="26.5" lengthAdjust="spacingAndGlyphs" stroke="#000" stroke-width="0.2" >7.64</text>
<text x="1159.7" y="511.5" font-size="16" font-weight="bold" fill="#000" text-anchor="start" textLength="18" lengthAdjust="spacingAndGlyphs" stroke="#000" stroke-width="0.55" >0.9</text>
<text x="1221.5" y="511.5" font-size="16" font-weight="bold" fill="#000" text-anchor="start" textLength="45.75" lengthAdjust="spacingAndGlyphs" stroke="#000" stroke-width="0.2" >GARAŻ</text>
<text x="1337" y="510.5" font-size="12" font-weight="bold" fill="#000" text-anchor="start" textLength="92" lengthAdjust="spacingAndGlyphs" stroke="#000" stroke-width="0.4" >PŁYTKI GRESOWE</text>
<text x="1450.5" y="511.5" font-size="16" font-weight="bold" fill="#000" text-anchor="start" textLength="33.75" lengthAdjust="spacingAndGlyphs" stroke="#000" stroke-width="0.2" >20.25</text>
<text x="1162" y="543.75" font-size="16" font-weight="bold" fill="#000" text-anchor="start" textLength="262.5" lengthAdjust="spacingAndGlyphs" >SUMA POWIERZCHNI UŻYTKOWEJ CAŁK.</text>
<text x="1450.5" y="545" font-size="16" font-weight="bold" fill="#000" text-anchor="start" textLength="33.5" lengthAdjust="spacingAndGlyphs" stroke="#000" stroke-width="0.4" >81.99</text>
<text x="1162" y="575" font-size="16" font-weight="bold" fill="#000" text-anchor="start" textLength="256" lengthAdjust="spacingAndGlyphs" >SUMA POW. UŻYTKOWEJ MIESZKALNEJ</text>
<text x="1450.5" y="577" font-size="16" font-weight="bold" fill="#000" text-anchor="start" textLength="33.5" lengthAdjust="spacingAndGlyphs" stroke="#000" stroke-width="0.4" >45.78</text>
<line x1="1111" y1="811.9" x2="1559" y2="811.9" stroke="#000" stroke-width="1.61" />
<line x1="1111" y1="876" x2="1559" y2="876" stroke="#000" stroke-width="1.61" />
<line x1="1111" y1="940" x2="1559" y2="940" stroke="#000" stroke-width="1.61" />
<line x1="1111" y1="971.9" x2="1559" y2="971.9" stroke="#000" stroke-width="1.61" />
<line x1="1111" y1="1021.9" x2="1559" y2="1021.9" stroke="#000" stroke-width="1.61" />
<line x1="1111" y1="1041.6" x2="1559" y2="1041.6" stroke="#000" stroke-width="1.61" />
<line x1="1111" y1="1104.7" x2="1559" y2="1104.7" stroke="#000" stroke-width="1.61" />
<line x1="1111" y1="811.9" x2="1111" y2="872.5" stroke="#000" stroke-width="1.61" />
<line x1="1111" y1="876" x2="1111" y2="1021.9" stroke="#000" stroke-width="1.61" />
<line x1="1111" y1="1041.6" x2="1111" y2="1104.7" stroke="#000" stroke-width="1.61" />
<text x="1126.6" y="842" font-size="28" font-weight="normal" fill="#000" text-anchor="start" textLength="127" lengthAdjust="spacingAndGlyphs" stroke="#000" stroke-width="0.7" >ha.office.tok.</text>
<text x="1127" y="859.4" font-size="11" font-weight="bold" fill="#000" text-anchor="start" textLength="73" lengthAdjust="spacingAndGlyphs" >NIP:7491382278</text>
<text x="1325.6" y="837" font-size="19" font-weight="normal" fill="#000" text-anchor="start" textLength="150" lengthAdjust="spacingAndGlyphs" stroke="#000" stroke-width="0.6" >adres: ul. Stroma 30,</text>
<text x="1325.6" y="860" font-size="19" font-weight="normal" fill="#000" text-anchor="start" textLength="150" lengthAdjust="spacingAndGlyphs" stroke="#000" stroke-width="0.6" >47-208 Reńska Wieś</text>
<text x="1122" y="884.5" font-size="7" font-weight="bold" fill="#000" text-anchor="start" textLength="43" lengthAdjust="spacingAndGlyphs" stroke="#000" stroke-width="0.3" >temat projektu</text>
<text x="1122" y="916" font-size="14" font-weight="bold" fill="#000" text-anchor="start" textLength="425" lengthAdjust="spacingAndGlyphs" stroke="#000" stroke-width="0.4" xml:space="preserve">Budynki mieszkalne jednorodzinne  z  garażem w zabudowie szeregowej</text>
<text x="1122" y="948" font-size="7" font-weight="bold" fill="#000" text-anchor="start" textLength="27" lengthAdjust="spacingAndGlyphs" stroke="#000" stroke-width="0.3" >Inwestor:</text>
<text x="1150" y="953.7" font-size="10.5" font-weight="bold" fill="#000" text-anchor="start" textLength="406" lengthAdjust="spacingAndGlyphs" stroke="#000" stroke-width="0.35" >JENDEREK"Hubert Jenderek Henryk Jenderek Spółka Jawna, 47-208 Reńska Wieś, ul. Pawłowicka 5</text>
<text x="1297" y="967" font-size="10.5" font-weight="bold" fill="#000" text-anchor="start" textLength="77" lengthAdjust="spacingAndGlyphs" stroke="#000" stroke-width="0.35" >NIP 749-19-16-805</text>
<text x="1122" y="984" font-size="7" font-weight="bold" fill="#000" text-anchor="start" textLength="48" lengthAdjust="spacingAndGlyphs" stroke="#000" stroke-width="0.3" >adres inwestycji</text>
<text x="1122" y="1006" font-size="17" font-weight="normal" fill="#000" text-anchor="start" textLength="268" lengthAdjust="spacingAndGlyphs" stroke="#000" stroke-width="0.8" >BIERAWA , ul. Serżyski , działka numer 540, 543</text>
<text x="1122" y="1035" font-size="8.5" font-weight="bold" fill="#000" text-anchor="start" textLength="106" lengthAdjust="spacingAndGlyphs" stroke="#000" stroke-width="0.3" >BRANŻA ARCHITEKTONICZNA</text>
<text x="1122" y="1050" font-size="7" font-weight="bold" fill="#000" text-anchor="start" textLength="119" lengthAdjust="spacingAndGlyphs" stroke="#000" stroke-width="0.3" >projektant, specjalność architektoniczna</text>
<text x="1122" y="1072" font-size="16" font-weight="normal" fill="#000" text-anchor="start" textLength="190" lengthAdjust="spacingAndGlyphs" stroke="#000" stroke-width="0.6" >mgr inż. arch. Jakub TOKARCZYK</text>
<text x="1122" y="1090" font-size="16" font-weight="normal" fill="#000" text-anchor="start" textLength="135" lengthAdjust="spacingAndGlyphs" stroke="#000" stroke-width="0.6" >upr. nr: 12/OPOKK/2019</text></svg>
</body></html>
